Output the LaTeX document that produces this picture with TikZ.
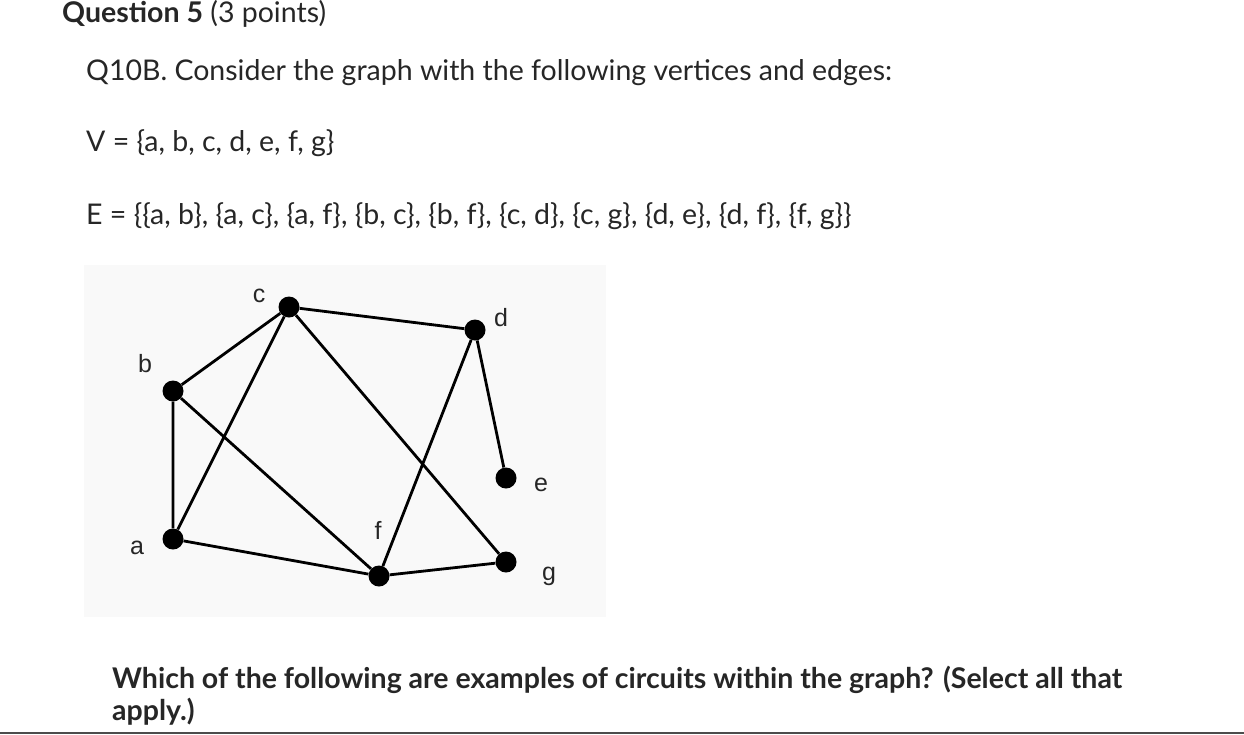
\documentclass[tikz,border=0pt]{standalone}
\usepackage{fontspec}
\setmainfont{Lato}
\newfontfamily\arial{Liberation Sans}
\begin{document}
\begin{tikzpicture}[x=1pt,y=-1pt,
  vtx/.style={circle,fill=black,inner sep=0pt,minimum size=21pt},
  lbl/.style={font=\arial\fontsize{25}{25}\selectfont,text=black!85,inner sep=0pt},
  edge/.style={line width=2.8pt,black},
  txt/.style={anchor=base west,inner sep=0pt,font=\fontsize{28.5}{32}\selectfont,text=black!85}]
\useasboundingbox (0,0) rectangle (1244,734);
\fill[white] (0,0) rectangle (1244,734);
\fill[black!2.5] (84,265) rectangle (606,617);
\node[txt] (q) at (62,22) {\textbf{Question 5} (3 points)};
\node[txt] (t1) at (86,80) {Q10B. Consider the graph with the following vertices and edges:};
\node[txt] (t2) at (86,151) {V = \{a, b, c, d, e, f, g\}};
\node[txt] (t3) at (86,224) {E = \{\{a, b\}, \{a, c\}, \{a, f\}, \{b, c\}, \{b, f\}, \{c, d\}, \{c, g\}, \{d, e\}, \{d, f\}, \{f, g\}\}};
\node[txt] (t4) at (112,688) {\textbf{Which of the following are examples of circuits within the graph? (Select all that}};
\node[txt] (t5) at (112,720) {\textbf{apply.)}};
\node[vtx] (a) at (173,539) {};
\node[vtx] (b) at (173,391) {};
\node[vtx] (c) at (289,307) {};
\node[vtx] (d) at (475,330) {};
\node[vtx] (e) at (506,478) {};
\node[vtx] (f) at (379,576) {};
\node[vtx] (g) at (506,562) {};
\draw[edge] (a)--(b) (a)--(c) (a)--(f) (b)--(c) (b)--(f) (c)--(d) (c)--(g) (d)--(e) (d)--(f) (f)--(g);
\node[lbl] (la) at (137,548) {a};
\node[lbl] (lb) at (145,364) {b};
\node[lbl] (lc) at (259,296) {c};
\node[lbl] (ld) at (501,318) {d};
\node[lbl] (le) at (541,485) {e};
\node[lbl] (lf) at (378,530) {f};
\node[lbl] (lg) at (549,576) {g};
\draw[line width=2pt,black!70] (0,733) -- (1244,733);
\end{tikzpicture}
\end{document}
